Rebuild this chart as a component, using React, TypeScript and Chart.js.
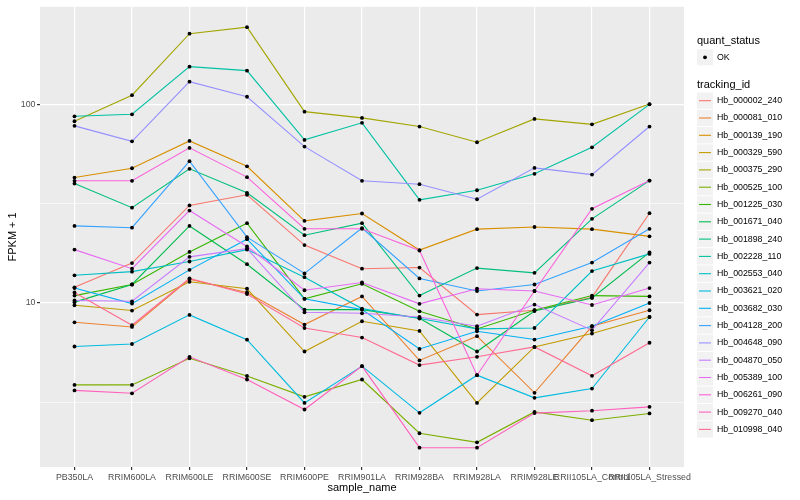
import React, { useEffect, useRef } from 'react';
import { Chart, registerables } from 'chart.js';

Chart.register(...registerables);

// ---------- data ----------
const samples = [
  'PB350LA', 'RRIM600LA', 'RRIM600LE', 'RRIM600SE', 'RRIM600PE', 'RRIM901LA',
  'RRIM928BA', 'RRIM928LA', 'RRIM928LE', 'RRII105LA_Control', 'RRII105LA_Stressed',
];

const trackingIds = [
  'Hb_000002_240', 'Hb_000081_010', 'Hb_000139_190', 'Hb_000329_590', 'Hb_000375_290',
  'Hb_000525_100', 'Hb_001225_030', 'Hb_001671_040', 'Hb_001898_240', 'Hb_002228_110',
  'Hb_002553_040', 'Hb_003621_020', 'Hb_003682_030', 'Hb_004128_200', 'Hb_004648_090',
  'Hb_004870_050', 'Hb_005389_100', 'Hb_006261_090', 'Hb_009270_040', 'Hb_010998_040',
];

const seriesColors = [
  '#F8766D', '#EA8331', '#D89000', '#C09B00', '#A3A500', '#7CAE00', '#39B600', '#00BB4E',
  '#00BF7D', '#00C1A3', '#00BFC4', '#00BAE0', '#00B0F6', '#35A2FF', '#9590FF', '#C77CFF',
  '#E76BF3', '#FA62DB', '#FF62BC', '#FF6C91',
];

const hb000002_240 = [12.0, 15.9, 31.1, 35.2, 19.6, 14.9, 15.1, 8.74, 9.19, 10.7, 28.4];
const hb000081_010 = [7.99, 7.57, 13.2, 11.3, 7.78, 10.8, 5.13, 6.8, 3.52, 7.63, 9.19];
const hb000139_190 = [43.0, 47.9, 65.8, 49.0, 26.0, 28.3, 18.5, 23.6, 24.2, 23.6, 21.7];
const hb000329_590 = [9.74, 9.16, 12.8, 11.8, 5.69, 8.09, 7.23, 3.13, 6.0, 7.01, 8.5];
const hb000375_290 = [82.7, 112, 229, 247, 92.5, 86, 77.8, 64.8, 85, 79.8, 101];
const hb000525_100 = [3.86, 3.86, 5.26, 4.28, 3.36, 4.11, 2.2, 1.98, 2.82, 2.56, 2.77];
const hb001225_030 = [10.9, 12.4, 18.1, 25.3, 10.5, 12.5, 9.08, 7.4, 9.19, 10.9, 10.8];
const hb001671_040 = [10.1, 12.4, 24.5, 15.7, 9.26, 9.26, 8.37, 5.69, 9.11, 10.6, 18.0];
const hb001898_240 = [40.1, 30.3, 47.6, 36.0, 22.0, 25.3, 10.9, 15.0, 14.2, 26.6, 41.5];
const hb002228_110 = [87.6, 89.7, 156, 149, 66.6, 81.2, 33.2, 37.1, 44.9, 61.1, 100.7];
const hb002553_040 = [13.8, 14.4, 16.2, 18.6, 13.5, 9.37, 8.35, 7.4, 7.48, 14.5, 17.7];
const hb003621_020 = [6.03, 6.21, 8.71, 6.53, 3.13, 4.8, 2.79, 4.32, 3.32, 3.7, 8.5];
const hb003682_030 = [11.9, 9.93, 14.7, 21.0, 10.5, 9.26, 5.86, 7.2, 6.54, 7.63, 10.0];
const hb004128_200 = [24.5, 24.0, 52.0, 21.5, 14.1, 23.9, 13.3, 11.5, 12.4, 16.0, 23.7];
const hb004648_090 = [78.4, 65.5, 131, 110, 61.6, 41.4, 39.8, 33.4, 48.1, 44.5, 77.8];
const hb004870_050 = [10.3, 10.2, 17.1, 18.8, 8.98, 8.87, 8.5, 7.63, 9.82, 7.29, 16.0];
const hb005389_100 = [18.6, 14.9, 29.3, 19.3, 11.6, 12.7, 9.9, 11.8, 11.5, 9.77, 11.9];
const hb006261_090 = [41.4, 41.4, 60.7, 43.2, 23.7, 23.7, 18.4, 4.32, 11.5, 29.9, 41.5];
const hb009270_040 = [3.62, 3.5, 5.35, 4.11, 2.9, 4.8, 1.86, 1.86, 2.78, 2.86, 2.99];
const hb010998_040 = [11.3, 7.72, 13.3, 11.1, 7.48, 6.69, 4.86, 5.35, 6.0, 4.29, 6.3];

const seriesValues = [
  hb000002_240, hb000081_010, hb000139_190, hb000329_590, hb000375_290,
  hb000525_100, hb001225_030, hb001671_040, hb001898_240, hb002228_110,
  hb002553_040, hb003621_020, hb003682_030, hb004128_200, hb004648_090,
  hb004870_050, hb005389_100, hb006261_090, hb009270_040, hb010998_040,
];

const yGridValues = [3.162, 10, 31.62, 100];
const yLabelledTicks = [10, 100];
const quantStatus = ['OK'];

const FONT = '"Liberation Sans", Arial, Helvetica, sans-serif';

// ---------- plugins ----------
const panelPlugin = {
  id: 'panelBg',
  beforeDraw(chart: any) {
    const { ctx, chartArea, width, height } = chart;
    ctx.save();
    ctx.fillStyle = '#FFFFFF';
    ctx.fillRect(0, 0, width, height);
    ctx.fillStyle = '#EBEBEB';
    ctx.fillRect(chartArea.left, chartArea.top, chartArea.right - chartArea.left, chartArea.bottom - chartArea.top);
    ctx.restore();
  },
};

const legendPlugin = {
  id: 'ggLegend',
  afterDraw(chart: any) {
    const ctx = chart.ctx;
    const x0 = 697;
    ctx.save();
    ctx.textBaseline = 'middle';
    ctx.textAlign = 'left';
    // quant_status
    ctx.fillStyle = '#000000';
    ctx.font = `11px ${FONT}`;
    ctx.fillText('quant_status', x0, 41);
    quantStatus.forEach((s, i) => {
      const top = 49.3 + i * 17.3;
      ctx.fillStyle = '#F2F2F2';
      ctx.fillRect(x0, top, 16, 16);
      ctx.fillStyle = '#000000';
      ctx.beginPath();
      ctx.arc(x0 + 8, top + 8, 1.9, 0, Math.PI * 2);
      ctx.fill();
      ctx.font = `8.8px ${FONT}`;
      ctx.fillText(s, x0 + 20, top + 8);
    });
    // tracking_id
    ctx.fillStyle = '#000000';
    ctx.font = `11px ${FONT}`;
    ctx.fillText('tracking_id', x0, 84.5);
    chart.data.datasets.forEach((ds: any) => {
      if (ds.legendIndex === undefined) return;
      const i = ds.legendIndex;
      const top = 92.5 + i * 17.3;
      ctx.fillStyle = '#F2F2F2';
      ctx.fillRect(x0, top, 16, 16.3);
      ctx.strokeStyle = ds.borderColor;
      ctx.lineWidth = 1.1;
      ctx.beginPath();
      ctx.moveTo(x0 + 2, top + 8.2);
      ctx.lineTo(x0 + 14, top + 8.2);
      ctx.stroke();
      ctx.fillStyle = '#000000';
      ctx.font = `8.8px ${FONT}`;
      ctx.fillText(ds.label, x0 + 20, top + 8.2);
    });
    ctx.restore();
  },
};

export default function App() {
  const canvasRef = useRef<HTMLCanvasElement | null>(null);

  useEffect(() => {
    if (!canvasRef.current) return;
    const lineSets = seriesValues.map((vals, i) => ({
      label: trackingIds[i],
      legendIndex: i,
      data: vals.map((v, j) => ({ x: j, y: v })),
      borderColor: seriesColors[i],
      backgroundColor: seriesColors[i],
      borderWidth: 1.1,
      pointRadius: 0,
      fill: false,
      tension: 0,
      order: 40 - i,
    }));
    const pointSets = seriesValues.map((vals, i) => ({
      label: trackingIds[i] + ' points',
      data: vals.map((v, j) => ({ x: j, y: v })),
      showLine: false,
      borderColor: '#000000',
      pointRadius: 1.9,
      pointBackgroundColor: '#000000',
      pointBorderWidth: 0,
      order: 0,
    }));

    const chart = new Chart(canvasRef.current, {
      type: 'line',
      data: { datasets: [...lineSets, ...pointSets] as any },
      plugins: [panelPlugin, legendPlugin],
      options: {
        responsive: false,
        animation: false,
        layout: { padding: { top: 6, right: 116, bottom: 0, left: 0 } },
        plugins: { legend: { display: false }, tooltip: { enabled: false } },
        scales: {
          x: {
            type: 'linear',
            min: -0.6,
            max: 10.6,
            afterBuildTicks: (s: any) => {
              s.ticks = samples.map((_, i) => ({ value: i }));
            },
            afterFit: (s: any) => {
              s.height = 33;
            },
            ticks: {
              autoSkip: false,
              maxRotation: 0,
              minRotation: 0,
              color: '#4D4D4D',
              padding: 2,
              font: { family: FONT, size: 8.8 },
              callback: (v: any) => samples[v as number] ?? '',
            },
            grid: {
              color: '#FFFFFF',
              lineWidth: 1.2,
              tickLength: 3,
              tickColor: '#333333',
            },
            border: { display: false },
            title: {
              display: true,
              text: 'sample_name',
              color: '#000000',
              font: { family: FONT, size: 11 },
              padding: { top: 0, bottom: 5.4 },
            },
          },
          y: {
            type: 'logarithmic',
            min: 1.486,
            max: 313,
            bounds: 'data',
            afterBuildTicks: (s: any) => {
              s.ticks = yGridValues.map((v) => ({ value: v }));
            },
            afterFit: (s: any) => {
              s.width = 40;
            },
            ticks: {
              color: '#4D4D4D',
              padding: 1.5,
              font: { family: FONT, size: 8.8 },
              callback: (v: any) => (yLabelledTicks.includes(v as number) ? String(v) : ''),
            },
            grid: {
              color: '#FFFFFF',
              lineWidth: (c: any) => (c.tick && yLabelledTicks.includes(c.tick.value) ? 1.2 : 0.6),
              tickLength: 3,
              tickColor: (c: any) => (c.tick && yLabelledTicks.includes(c.tick.value) ? '#333333' : 'rgba(0,0,0,0)'),
            },
            border: { display: false },
            title: {
              display: true,
              text: 'FPKM + 1',
              color: '#000000',
              font: { family: FONT, size: 11 },
              padding: { top: 6.4, bottom: 0 },
            },
          },
        },
      } as any,
    });
    return () => chart.destroy();
  }, []);

  return (
    <div style={{ position: 'absolute', left: 0, top: 0, width: 800, height: 500, background: '#FFFFFF' }}>
      <canvas ref={canvasRef} width={800} height={500} style={{ display: 'block' }} />
    </div>
  );
}
